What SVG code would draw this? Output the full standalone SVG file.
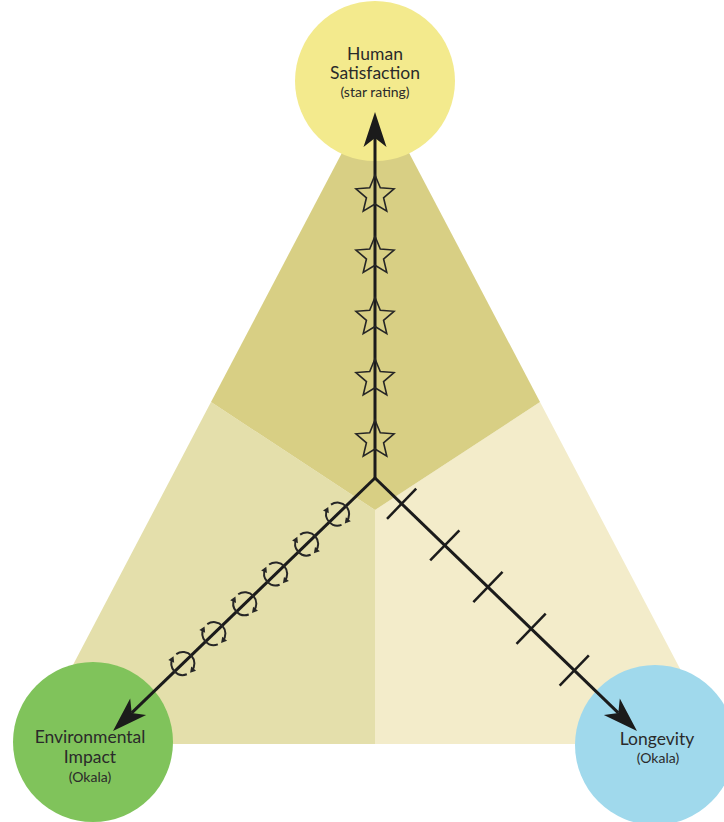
<svg xmlns="http://www.w3.org/2000/svg" width="724" height="822" viewBox="0 0 724 822">
  <style>
    .axis { stroke: #1b1b1b; stroke-width: 3; fill: none; }
    .tick { stroke: #1b1b1b; stroke-width: 2.5; }
    .star { fill: none; stroke: #262626; stroke-width: 1.6; stroke-linejoin: miter; }
    .cycle { fill: none; stroke: #262626; stroke-width: 2; }
    .label { font-family: Lato, "Open Sans", sans-serif; fill: #2a2a2a; text-anchor: middle; }
    .main { font-size: 17.5px; }
    .sub { font-size: 14px; }
  </style>
  <defs>
    <!-- stealth arrowhead; the line ends at the notch -->
    <marker id="head" markerUnits="userSpaceOnUse" markerWidth="40" markerHeight="30" refX="-26" refY="0" orient="auto" overflow="visible">
      <path d="M0,0 L-35,-11.5 L-26,0 L-35,11.5 Z" fill="#1b1b1b"/>
    </marker>
    <marker id="tiny" markerUnits="userSpaceOnUse" markerWidth="8" markerHeight="8" refX="0" refY="0" orient="auto" overflow="visible">
      <path d="M2.5,0 L-3,-3.2 L-3,3.2 Z" fill="#262626"/>
    </marker>
    <path id="star" class="star" d="M0,-20 L5.29,-7.28 L19.02,-6.18 L8.56,2.78 L11.76,16.18 L0,9 L-11.76,16.18 L-8.56,2.78 L-19.02,-6.18 L-5.29,-7.28 Z"/>
    <g id="cycle">
      <path class="cycle" d="M-6.6,-9.42 A11.5,11.5 0 0 1 8.81,7.39" marker-end="url(#tiny)"/>
      <path class="cycle" d="M3.93,10.81 A11.5,11.5 0 0 1 -10.42,-4.86" marker-end="url(#tiny)"/>
    </g>
  </defs>

  <!-- shaded sectors -->
  <g id="sectors">
    <polygon points="211,402 31.5,744 375,744 375,510" fill="#e4dfab"/>
    <polygon points="540,402 375,510 375,744 719.5,744" fill="#f3ecca"/>
    <polygon points="375.5,89 211,402 375,510 540,402" fill="#d8cf84"/>
  </g>

  <g id="node-human">
    <circle cx="375" cy="81" r="80" fill="#f3ea8d"/>
    <text class="label main" x="375" y="60">Human</text>
    <text class="label main" x="375" y="79">Satisfaction</text>
    <text class="label sub" x="375" y="97">(star rating)</text>
  </g>

  <g id="node-environment">
    <circle cx="93" cy="742" r="80" fill="#80c35b"/>
    <text class="label main" x="90" y="743">Environmental</text>
    <text class="label main" x="90" y="763">Impact</text>
    <text class="label sub" x="90" y="782">(Okala)</text>
  </g>

  <g id="node-longevity">
    <circle cx="655" cy="745" r="80" fill="#a0d9ec"/>
    <text class="label main" x="657" y="745">Longevity</text>
    <text class="label sub" x="658" y="763">(Okala)</text>
  </g>

  <g id="connectors">
    <line class="axis" x1="375" y1="478" x2="375" y2="138" marker-end="url(#head)"/>
    <line class="axis" x1="375" y1="478" x2="131.7" y2="712.9" marker-end="url(#head)"/>
    <line class="axis" x1="375" y1="478" x2="618.3" y2="712.9" marker-end="url(#head)"/>

    <!-- star scale -->
    <use href="#star" x="375" y="195"/>
    <use href="#star" x="375" y="256.25"/>
    <use href="#star" x="375" y="317.5"/>
    <use href="#star" x="375" y="378.75"/>
    <use href="#star" x="375" y="440"/>

    <!-- cycle scale -->
    <use href="#cycle" x="337.6" y="514.1"/>
    <use href="#cycle" x="306.7" y="544"/>
    <use href="#cycle" x="275.7" y="573.9"/>
    <use href="#cycle" x="244.8" y="603.7"/>
    <use href="#cycle" x="213.9" y="633.6"/>
    <use href="#cycle" x="182.9" y="663.5"/>

    <!-- tick scale -->
    <g transform="translate(375,478) rotate(44)">
      <line class="tick" x1="37" y1="-21" x2="37" y2="21"/>
      <line class="tick" x1="97" y1="-21" x2="97" y2="21"/>
      <line class="tick" x1="157" y1="-21" x2="157" y2="21"/>
      <line class="tick" x1="217" y1="-21" x2="217" y2="21"/>
      <line class="tick" x1="277" y1="-21" x2="277" y2="21"/>
    </g>
  </g>
</svg>
